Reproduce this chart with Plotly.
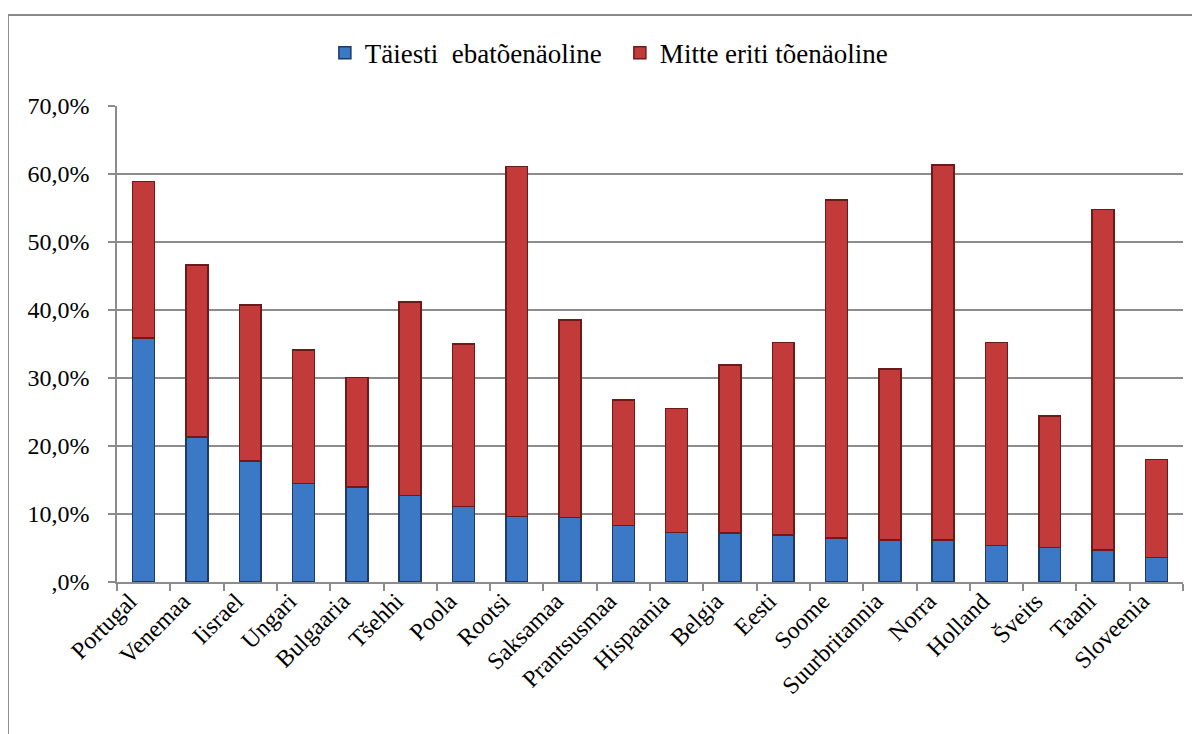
import plotly.graph_objects as go

countries = ["Portugal", "Venemaa", "Iisrael", "Ungari", "Bulgaaria", "Tšehhi", "Poola",
             "Rootsi", "Saksamaa", "Prantsusmaa", "Hispaania", "Belgia", "Eesti", "Soome",
             "Suurbritannia", "Norra", "Holland", "Šveits", "Taani", "Sloveenia"]
taiesti = [35.9, 21.3, 17.8, 14.5, 14.0, 12.7, 11.1, 9.6, 9.5, 8.3, 7.3, 7.2, 6.9, 6.5,
           6.2, 6.2, 5.4, 5.1, 4.7, 3.6]
kogu = [58.9, 46.6, 40.7, 34.1, 30.1, 41.2, 35.0, 61.1, 38.5, 26.8, 25.5, 31.9, 35.2, 56.2,
        31.3, 61.3, 35.2, 24.4, 54.8, 18.0]
mitte_eriti = [round(t - b, 1) for t, b in zip(kogu, taiesti)]

series_names = ["Täiesti  ebatõenäoline", "Mitte eriti tõenäoline"]
y_tickvals = [0, 10, 20, 30, 40, 50, 60, 70]
y_ticktext = [",0%", "10,0%", "20,0%", "30,0%", "40,0%", "50,0%", "60,0%", "70,0%"]

font_family = "Liberation Serif, Times New Roman, serif"

fig = go.Figure()
fig.add_trace(go.Bar(
    x=countries, y=taiesti, name=series_names[0],
    marker=dict(color="#3B78C6", line=dict(color="#1C3A63", width=1.5)),
))
fig.add_trace(go.Bar(
    x=countries, y=mitte_eriti, name=series_names[1],
    marker=dict(color="#C23A3A", line=dict(color="#6E1A1A", width=1.5)),
))

fig.update_layout(
    barmode="stack",
    bargap=0.59,
    width=1200, height=734,
    margin=dict(l=109, r=25, t=98, b=160),
    paper_bgcolor="white", plot_bgcolor="white",
    font=dict(family=font_family, size=24, color="black"),
    showlegend=True,
    legend=dict(orientation="h", x=0.195, xanchor="left", y=1.111, yanchor="middle",
                traceorder="normal",
                font=dict(size=27, family=font_family), itemwidth=30,
                entrywidth=250,
                bgcolor="rgba(0,0,0,0)"),
    shapes=[dict(type="rect", xref="paper", yref="paper",
                 x0=-0.1023, x1=1.05, y0=-0.5, y1=1.191,
                 line=dict(color="#8a8a8a", width=2), fillcolor="rgba(0,0,0,0)",
                 layer="below")],
)
fig.update_yaxes(
    range=[0, 70], tickvals=y_tickvals, ticktext=y_ticktext,
    showgrid=True, gridcolor="#8c8c8c", gridwidth=1.5,
    showline=True, linecolor="#8c8c8c", linewidth=1.5,
    ticks="outside", ticklen=7, tickcolor="#8c8c8c", tickwidth=1.5,
    ticklabelstandoff=14, zeroline=False,
    tickfont=dict(size=24, family=font_family),
)
fig.update_xaxes(
    tickangle=-45, showline=True, linecolor="#8c8c8c", linewidth=1.5,
    ticks="outside", ticklen=7, tickcolor="#8c8c8c", tickwidth=1.5,
    tickson="boundaries", showgrid=False,
    ticklabelshift=-14, ticklabelstandoff=-6,
    tickfont=dict(size=24, family=font_family),
)

fig.write_html("out.html")
